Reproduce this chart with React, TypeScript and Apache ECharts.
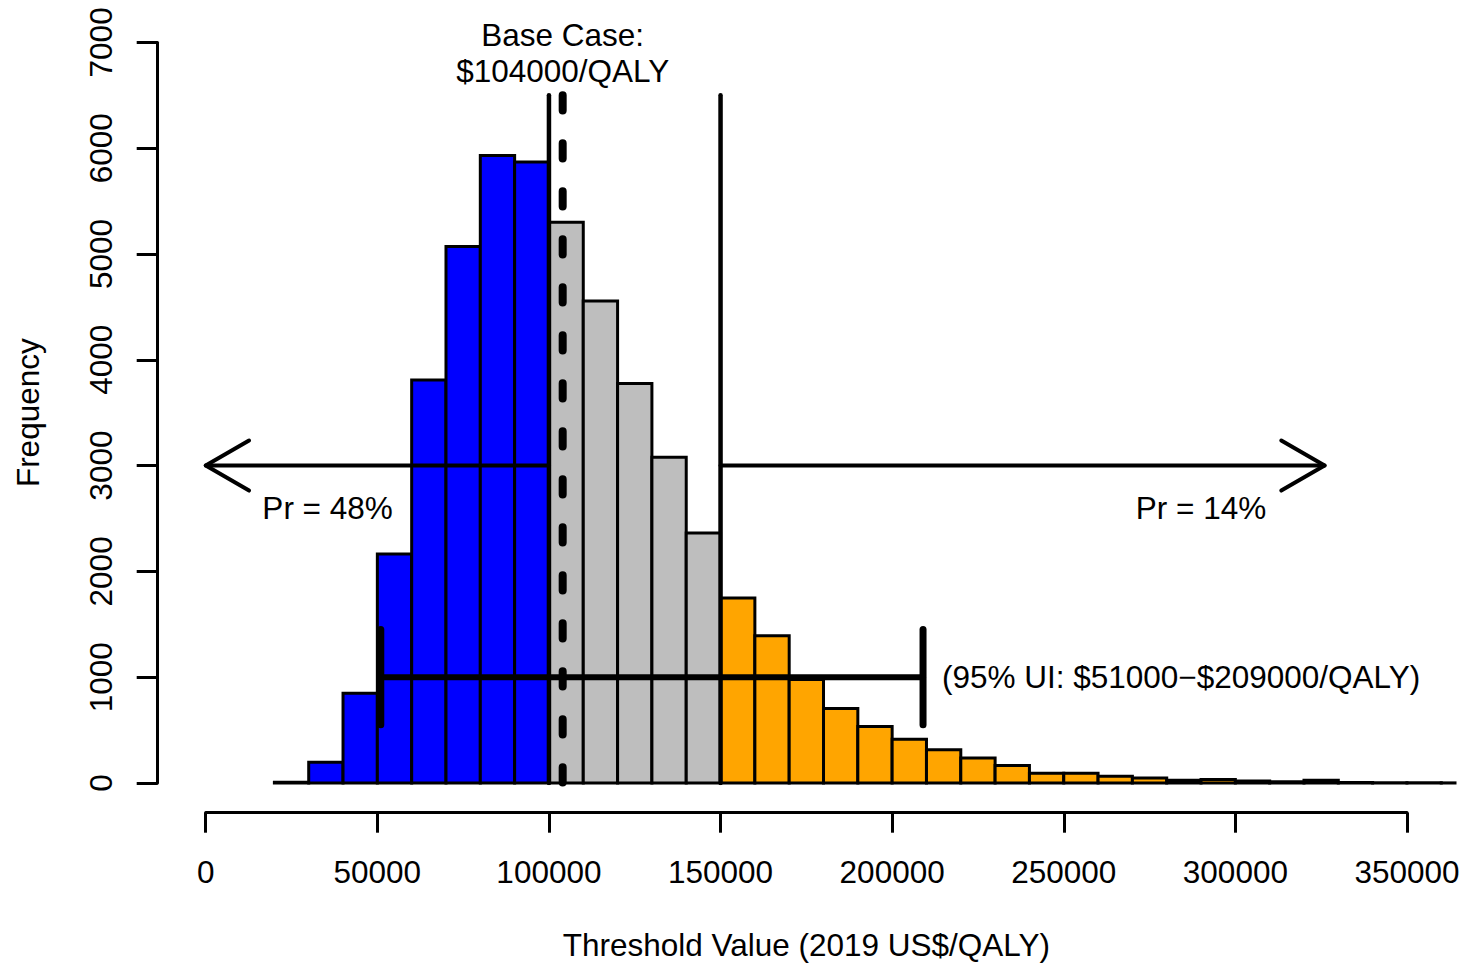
import React, { useEffect, useRef } from "react";
import * as echarts from "echarts";

// ---- data ----
const binStarts = [
  20000, 30000, 40000, 50000, 60000, 70000, 80000, 90000, 100000, 110000,
  120000, 130000, 140000, 150000, 160000, 170000, 180000, 190000, 200000, 210000,
  220000, 230000, 240000, 250000, 260000, 270000, 280000, 290000, 300000, 310000,
  320000, 330000, 340000, 350000, 360000,
];
const binEnds = [
  30000, 40000, 50000, 60000, 70000, 80000, 90000, 100000, 110000, 120000,
  130000, 140000, 150000, 160000, 170000, 180000, 190000, 200000, 210000, 220000,
  230000, 240000, 250000, 260000, 270000, 280000, 290000, 300000, 310000, 320000,
  330000, 340000, 350000, 360000, 370000,
];
const counts = [
  8, 195, 848, 2165, 3810, 5070, 5930, 5870, 5300, 4555,
  3775, 3078, 2362, 1748, 1392, 978, 703, 533, 414, 314,
  237, 165, 92, 93, 63, 47, 26, 32, 18, 12,
  25, 4, 2, 2, 1,
];

const cutLow = 100000;
const cutHigh = 150000;
const baseCase = 104000;
const lineTop = 6500;
const arrowY = 3000;
const arrowLeftEnd = 0;
const arrowRightEnd = 326000;
const uiLow = 51000;
const uiHigh = 209000;
const uiY = 1000;
const uiCapHalf = 450;

const annX = [104000, 104000, 35500, 290000, 214500];
const annY = [7070, 6725, 2595, 2595, 1000];
const annText = ["Base Case:", "$104000/QALY", "Pr = 48%", "Pr = 14%", "(95% UI: $51000\u2212$209000/QALY)"];
const annAlign = ["center", "center", "center", "center", "left"];

const X_MIN = -14000;
const X_MAX = 364000;

const BLUE = "#0000FF";
const GRAY = "#BEBEBE";
const ORANGE = "#FFA500";
const FONT = '"Liberation Sans", Arial, Helvetica, sans-serif';
const FS = 31.5;

function seg(data: number[][], width: number, type: any = "solid") {
  return {
    type: "line",
    xAxisIndex: 0,
    yAxisIndex: 0,
    data,
    symbol: "none",
    silent: true,
    z: 3,
    lineStyle: { color: "#000", width, type, cap: "round" },
  };
}

const plain = (v: number) => String(v);

export default function App() {
  const ref = useRef<HTMLDivElement>(null);
  useEffect(() => {
    document.body.style.margin = "0";
    if (!ref.current) return;
    const chart = echarts.init(ref.current, undefined, { renderer: "svg" });
    const option: any = {
      animation: false,
      textStyle: { fontFamily: FONT },
      grid: [
        { left: 157.7, right: 12, top: 42.4, bottom: 185 },
        { left: 205.7, right: 60, top: 790, bottom: 155.3 },
      ],
      xAxis: [
        { gridIndex: 0, type: "value", min: X_MIN, max: X_MAX, show: false },
        {
          gridIndex: 1,
          type: "value",
          min: 0,
          max: 350000,
          interval: 50000,
          axisLine: { show: true, onZero: false, lineStyle: { color: "#000", width: 3 } },
          axisTick: { show: true, length: 20, lineStyle: { color: "#000", width: 3 } },
          axisLabel: { fontSize: FS, color: "#000", margin: 43, fontFamily: FONT, formatter: plain },
          splitLine: { show: false },
          name: "Threshold Value (2019 US$/QALY)",
          nameLocation: "middle",
          nameGap: 116,
          nameTextStyle: { fontSize: FS, color: "#000", fontFamily: FONT },
        },
      ],
      yAxis: [
        {
          gridIndex: 0,
          type: "value",
          min: 0,
          max: 7000,
          interval: 1000,
          axisLine: { show: true, onZero: false, lineStyle: { color: "#000", width: 3 } },
          axisTick: { show: true, length: 21, lineStyle: { color: "#000", width: 3 } },
          axisLabel: { rotate: 90, fontSize: FS, color: "#000", margin: 41, fontFamily: FONT, formatter: plain },
          splitLine: { show: false },
          name: "Frequency",
          nameLocation: "middle",
          nameGap: 114,
          nameTextStyle: { fontSize: FS, color: "#000", fontFamily: FONT },
        },
        { gridIndex: 1, type: "value", show: false },
      ],
      series: [
        {
          type: "custom",
          xAxisIndex: 0,
          yAxisIndex: 0,
          clip: false,
          z: 2,
          data: binStarts.map((s, i) => [s, binEnds[i], counts[i]]),
          encode: { x: [0, 1], y: 2 },
          renderItem: (params: any, api: any) => {
            const x0 = api.value(0);
            const x1 = Math.min(api.value(1), X_MAX);
            const c = api.value(2);
            const a = api.coord([x0, 0]);
            const b = api.coord([x1, c]);
            const fill = x0 < cutLow ? BLUE : x0 < cutHigh ? GRAY : ORANGE;
            return {
              type: "rect",
              shape: { x: a[0], y: b[1], width: b[0] - a[0], height: a[1] - b[1] },
              style: { fill, stroke: "#000", lineWidth: 3 },
            };
          },
        },
        seg([[cutLow, lineTop], [cutLow, 0]], 4.5),
        seg([[cutHigh, lineTop], [cutHigh, 0]], 4.5),
        seg([[baseCase, lineTop], [baseCase, 0]], 8, [15.3, 32.7]),
        seg([[cutLow, arrowY], [arrowLeftEnd, arrowY]], 4),
        seg([[cutHigh, arrowY], [arrowRightEnd, arrowY]], 4),
        seg([[uiLow, uiY], [uiHigh, uiY]], 6),
        seg([[uiLow, uiY + uiCapHalf], [uiLow, uiY - uiCapHalf]], 7),
        seg([[uiHigh, uiY + uiCapHalf], [uiHigh, uiY - uiCapHalf]], 7),
        {
          type: "custom",
          xAxisIndex: 0,
          yAxisIndex: 0,
          clip: false,
          z: 4,
          data: [
            [arrowLeftEnd, arrowY, -1],
            [arrowRightEnd, arrowY, 1],
          ],
          renderItem: (params: any, api: any) => {
            const p = api.coord([api.value(0), api.value(1)]);
            const dir = api.value(2);
            const L = 50;
            const dx = -dir * L * Math.cos(Math.PI / 6);
            const dy = L * Math.sin(Math.PI / 6);
            return {
              type: "polyline",
              shape: {
                points: [
                  [p[0] + dx, p[1] - dy],
                  [p[0], p[1]],
                  [p[0] + dx, p[1] + dy],
                ],
              },
              style: { stroke: "#000", lineWidth: 4, fill: "none", lineCap: "round", lineJoin: "round" },
            };
          },
        },
        {
          type: "custom",
          xAxisIndex: 0,
          yAxisIndex: 0,
          clip: false,
          z: 5,
          data: annX.map((x, i) => [x, annY[i]]),
          renderItem: (params: any, api: any) => {
            const i = params.dataIndex;
            const p = api.coord([api.value(0), api.value(1)]);
            return {
              type: "text",
              x: p[0],
              y: p[1],
              style: {
                text: annText[i],
                fontSize: FS,
                fontFamily: FONT,
                fill: "#000",
                align: annAlign[i],
                verticalAlign: "middle",
              },
            };
          },
        },
      ],
    };
    chart.setOption(option);
    return () => chart.dispose();
  }, []);
  return <div ref={ref} style={{ width: 1467, height: 968 }} />;
}
